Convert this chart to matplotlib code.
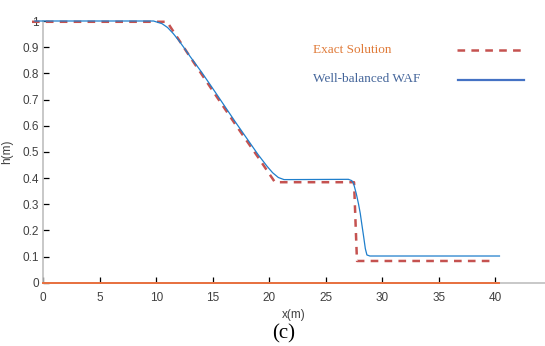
import matplotlib
matplotlib.use("Agg")
import matplotlib.pyplot as plt

# Exact solution (dashed)
exact_x = [-1.0, 10.95, 13.0, 15.0, 17.0, 19.0, 20.5, 27.5, 27.76, 40.0]
exact_h = [0.997, 0.997, 0.862, 0.733, 0.605, 0.48, 0.384, 0.384, 0.083, 0.083]

# Well-balanced WAF (solid)
waf_x = [-0.75, 9.75, 10.5, 11.0, 11.5, 12.0, 12.5, 13.0, 14.0, 15.0, 16.0, 17.0,
         17.5, 18.0, 19.0, 19.8, 20.3, 20.8, 21.3, 22.0, 27.0, 27.3, 27.46, 27.7,
         27.9, 28.05, 28.2, 28.35, 28.5, 28.64, 28.9, 40.37]
waf_h = [1.0, 1.0, 0.99, 0.975, 0.952, 0.925, 0.895, 0.864, 0.805, 0.742, 0.678, 0.614,
         0.583, 0.552, 0.49, 0.445, 0.42, 0.402, 0.394, 0.394, 0.395, 0.39, 0.379, 0.34,
         0.3, 0.265, 0.22, 0.176, 0.13, 0.106, 0.102, 0.102]

# Bed (orange line at 0)
bed_x = [0.0, 40.37]
bed_h = [0.0, 0.0]

xticks = [0, 5, 10, 15, 20, 25, 30, 35, 40]
yticks = [0, 0.1, 0.2, 0.3, 0.4, 0.5, 0.6, 0.7, 0.8, 0.9, 1.0]
ytick_labels = ["0", "0.1", "0.2", "0.3", "0.4", "0.5", "0.6", "0.7", "0.8", "0.9", "1"]

plt.rcParams['font.family'] = ['Liberation Sans', 'DejaVu Sans']
plt.rcParams['lines.scale_dashes'] = False

fig = plt.figure(figsize=(5.45, 3.46), dpi=100)
ax = fig.add_axes([43.3 / 545, 1 - 282.7 / 346, 1 - 43.3 / 545, (282.7 - 21) / 346])

ax.plot(bed_x, bed_h, color='#E8703F', lw=1.4, clip_on=False, zorder=3)
ax.plot(exact_x, exact_h, color='#C55250', lw=1.8, dashes=(5.5, 4.5), clip_on=False, zorder=4)
ax.plot(waf_x, waf_h, color='#1F7FCC', lw=0.9, clip_on=False, zorder=5)

ax.set_xlim(0, 44.4)
ax.set_ylim(0, 1)
ax.set_xticks(xticks)
ax.set_yticks(yticks)
ax.set_yticklabels(ytick_labels)

for s in ['top', 'right']:
    ax.spines[s].set_visible(False)
for s in ['left', 'bottom']:
    ax.spines[s].set_color('#BFBFBF')
    ax.spines[s].set_linewidth(1.2)

ax.tick_params(direction='in', length=4, width=0.9, color='black',
               labelcolor='#404040', labelsize=8.5)
ax.tick_params(axis='x', pad=7)
ax.tick_params(axis='y', pad=3)

ax.set_xlabel('x(m)', fontsize=8.5, color='#404040', labelpad=3)
ax.set_ylabel('h(m)', fontsize=8.5, color='#404040', labelpad=7)

# Legend (manual, as in the reference)
fig.text(313 / 545, 1 - 50 / 346, 'Exact Solution', family='Liberation Serif',
         fontsize=9.5, color='#E07B39', va='center', ha='left')
fig.text(313 / 545, 1 - 79 / 346, 'Well-balanced WAF', family='Liberation Serif',
         fontsize=9.5, color='#44659A', va='center', ha='left')
fig.add_artist(plt.Line2D([456.7 / 545, 520.7 / 545], [1 - 50 / 346, 1 - 50 / 346],
                          color='#C55250', lw=1.8, dashes=(5.5, 4.5)))
fig.add_artist(plt.Line2D([458.3 / 545, 524 / 545], [1 - 79.5 / 346, 1 - 79.5 / 346],
                          color='#4472C4', lw=1.6))

fig.text(284 / 545, 1 - 334 / 346, '(c)', family='Liberation Serif', fontsize=15,
         color='black', ha='center', va='center')

fig.savefig('out.png', dpi=100)
